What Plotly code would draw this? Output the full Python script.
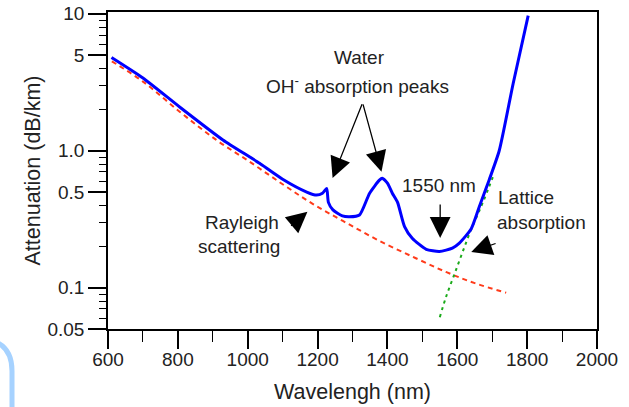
import plotly.graph_objects as go

# total fibre attenuation (blue)
wl_total = [610, 700, 806, 929, 1006, 1034, 1100, 1169, 1197, 1214, 1226, 1231, 1244,
            1271, 1291, 1320, 1349, 1377, 1385, 1400, 1414, 1429, 1449, 1471, 1511,
            1549, 1586, 1606, 1640, 1663, 1691, 1720, 1760, 1803]
att_total = [4.8, 3.4, 2.08, 1.2, 0.9, 0.81, 0.62, 0.5, 0.475, 0.49, 0.53, 0.42, 0.37,
             0.335, 0.33, 0.34, 0.49, 0.61, 0.63, 0.58, 0.49, 0.42, 0.28, 0.23, 0.191,
             0.184, 0.195, 0.212, 0.27, 0.39, 0.61, 1.0, 3.1, 9.7]

# Rayleigh scattering (red dashed)
wl_rayleigh = [611, 700, 806, 910, 1006, 1100, 1186, 1280, 1377, 1480, 1569, 1650, 1740]
att_rayleigh = [4.5, 3.2, 1.92, 1.2, 0.83, 0.57, 0.41, 0.30, 0.22, 0.165, 0.13, 0.108, 0.092]

# lattice (IR) absorption (green dotted)
wl_lattice = [1550, 1568, 1591, 1614, 1639, 1668, 1691, 1706]
att_lattice = [0.061, 0.086, 0.124, 0.179, 0.264, 0.39, 0.545, 0.686]

y_tickvals = [0.05, 0.1, 0.5, 1, 5, 10]
y_ticktext = ["0.05", "0.1", "0.5", "1.0", "5", "10"]
y_minor = [0.06, 0.07, 0.08, 0.09, 0.2, 0.3, 0.4, 0.6, 0.7, 0.8, 0.9,
           2, 3, 4, 6, 7, 8, 9]

FONT = "Liberation Sans, Arial, sans-serif"
TXT = "#222222"

fig = go.Figure()
fig.add_trace(go.Scatter(x=wl_rayleigh, y=att_rayleigh, mode="lines",
                         line=dict(color="#ff3b1a", width=2, dash="5px,4px", shape="spline")))
fig.add_trace(go.Scatter(x=wl_lattice, y=att_lattice, mode="lines",
                         line=dict(color="#1aaa1a", width=2, dash="3px,4px", shape="spline")))
fig.add_trace(go.Scatter(x=wl_total, y=att_total, mode="lines",
                         line=dict(color="#0000ff", width=3, shape="spline", smoothing=0.6)))

# annotations: y in log10 units (log axis)
def arrow(x, y, ax, ay):
    fig.add_annotation(x=x, y=y, ax=ax, ay=ay, xref="x", yref="y", axref="x", ayref="y",
                       text="", showarrow=True, arrowhead=2, arrowsize=3.2,
                       arrowwidth=1.3, arrowcolor="black", standoff=0)

def label(x, y, t, anchor="center"):
    fig.add_annotation(x=x, y=y, xref="x", yref="y", text=t, showarrow=False,
                       xanchor=anchor, yanchor="middle",
                       font=dict(family=FONT, size=19, color=TXT))

arrow(1243, -0.198, 1329, 0.350)
arrow(1383, -0.154, 1329, 0.350)
arrow(1551, -0.636, 1551, -0.381)
arrow(1171, -0.446, 1120, -0.556)
arrow(1640, -0.739, 1714, -0.673)

label(1320, 0.679, "Water")
label(1314, 0.481, "OH<sup>-</sup> absorption peaks")
label(1549, -0.256, "1550 nm")
label(1094, -0.527, "Rayleigh", "right")
label(1097, -0.702, "scattering", "right")
label(1711, -0.344, "Lattice", "left")
label(1709, -0.52, "absorption", "left")

# light blue arc remnant at bottom-left corner
fig.add_shape(type="path", xref="paper", yref="paper", xsizemode="pixel",
              ysizemode="pixel", xanchor=0, yanchor=0,
              path="M -112,-13 Q -96,-20 -96,-42 L -96,-90",
              line=dict(color="#a6d2ff", width=5))

fig.update_layout(
    width=629, height=407,
    margin=dict(l=108, r=32, t=12, b=78, autoexpand=False),
    paper_bgcolor="white", plot_bgcolor="white",
    showlegend=False,
    font=dict(family=FONT, color=TXT),
)
fig.update_xaxes(
    automargin=False,
    range=[600, 2000], tickmode="linear", tick0=600, dtick=200,
    ticks="outside", ticklen=18, tickwidth=1.5, tickcolor="black",
    ticklabelstandoff=-6, ticklabeloverflow="allow",
    minor=dict(tickmode="linear", tick0=600, dtick=100, ticks="outside",
               ticklen=11, tickwidth=1.2, tickcolor="black"),
    showline=True, mirror=True, linecolor="black", linewidth=1.5,
    showgrid=False, zeroline=False,
    tickfont=dict(family=FONT, size=19, color=TXT),
    title=dict(text="Wavelengh (nm)", font=dict(family=FONT, size=21.5, color=TXT),
               standoff=15),
)
fig.update_yaxes(
    automargin=False,
    type="log", range=[-1.30103, 1.013],
    tickmode="array", tickvals=y_tickvals, ticktext=y_ticktext,
    ticks="outside", ticklen=18, tickwidth=1.5, tickcolor="black",
    ticklabeloverflow="allow",
    minor=dict(tickmode="array", tickvals=y_minor, ticks="outside",
               ticklen=7, tickwidth=1.2, tickcolor="black"),
    showline=True, mirror=True, linecolor="black", linewidth=1.5,
    showgrid=False, zeroline=False,
    tickfont=dict(family=FONT, size=19, color=TXT),
    title=dict(text="Attenuation (dB/km)", font=dict(family=FONT, size=21.5, color=TXT),
               standoff=1),
)

# drop the default 8px body margin so the figure fills the 629x407 window
fig.write_html("out.html", config={"displayModeBar": False},
               post_script="document.body.style.margin = '0';")
